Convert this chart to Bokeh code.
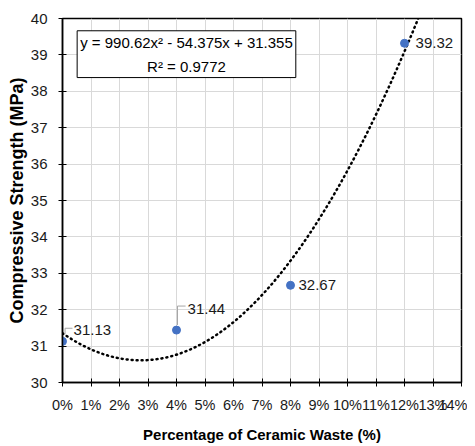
import numpy as np
from bokeh.plotting import figure
from bokeh.models import ColumnDataSource, LabelSet, Label, NumeralTickFormatter, FixedTicker, Range1d, Title
from bokeh.core.properties import value
from bokeh.embed import file_html
from bokeh.resources import INLINE

# data
ceramic = [0.00, 0.04, 0.08, 0.12]
strength = [31.13, 31.44, 32.67, 39.32]
labels = ["31.13", "31.44", "32.67", "39.32"]
# trendline coefficients (from chart equation)
coef_a, coef_b, coef_c = 990.62, -54.375, 31.355
x_ticks = [i / 100 for i in range(0, 15)]
y_ticks = list(range(30, 41))
x_title = "Percentage of Ceramic Waste (%)"
y_title = "Compressive Strength (MPa)"

FONT = "Liberation Sans"

p = figure(width=467, height=446, output_backend="svg", toolbar_location=None,
           x_range=Range1d(0, 0.14), y_range=Range1d(30, 40),
           min_border_left=62, min_border_right=6, min_border_top=18, min_border_bottom=64)
p.frame_width = 399
p.frame_height = 364

p.outline_line_color = "black"
p.outline_line_width = 1.5
p.background_fill_color = "white"
p.border_fill_color = "white"

for ax in (p.xaxis[0], p.yaxis[0]):
    ax.axis_line_color = "black"
    ax.axis_line_width = 1.5
    ax.major_tick_line_color = "black"
    ax.major_tick_in = 4
    ax.major_tick_out = 4
    ax.minor_tick_line_color = None
    ax.major_label_text_font = FONT
    ax.major_label_text_font_size = "15px"
    ax.major_label_text_color = "#1a1a1a"

p.xaxis.major_label_text_font_size = "14.5px"
p.xaxis.ticker = FixedTicker(ticks=x_ticks)
p.yaxis.ticker = FixedTicker(ticks=y_ticks)
p.xaxis.formatter = NumeralTickFormatter(format="0%")
p.xaxis.major_label_standoff = 10
p.yaxis.major_label_standoff = 11

p.xaxis.axis_label = x_title
p.xaxis.axis_label_text_font = FONT
p.xaxis.axis_label_text_font_size = "15px"
p.xaxis.axis_label_text_font_style = "bold"
p.xaxis.axis_label_text_color = "black"
p.xaxis.axis_label_standoff = 10

p.add_layout(Title(text=y_title, align="center", offset=-16, standoff=2,
                   text_font=FONT, text_font_size="18px", text_font_style="bold",
                   text_color="black"), "left")

p.xgrid.ticker = FixedTicker(ticks=x_ticks)
p.ygrid.ticker = FixedTicker(ticks=y_ticks)
p.xgrid.grid_line_color = "#d9d9d9"
p.ygrid.grid_line_color = "#d9d9d9"

# trendline
xs = np.linspace(0, 0.14, 300)
ys = coef_a * xs**2 + coef_b * xs + coef_c
p.line(xs, ys, line_color="black", line_width=2.5, line_dash="1 4", line_cap="round")

# leader lines for the two lower labels
p.multi_line(xs=[[ceramic[0] + 0.0009, ceramic[0] + 0.0009, ceramic[0] + 0.0035],
                 [ceramic[1] + 0.00035, ceramic[1] + 0.00035, ceramic[1] + 0.0032]],
             ys=[[strength[0] + 0.19, strength[0] + 0.36, strength[0] + 0.36],
                 [strength[1] + 0.14, strength[1] + 0.66, strength[1] + 0.66]],
             line_color="#a6a6a6", line_width=1)

src = ColumnDataSource(dict(x=ceramic, y=strength))
p.scatter("x", "y", source=src, size=8, fill_color="#4472C4", line_color="#4472C4")

lab_src = ColumnDataSource(dict(x=[ceramic[0] + 0.0039, ceramic[1] + 0.0039, ceramic[2] + 0.0028, ceramic[3] + 0.0039],
                                y=[strength[0] + 0.30, strength[1] + 0.58, strength[2], strength[3]],
                                t=labels))
p.add_layout(LabelSet(x="x", y="y", text="t", source=lab_src, text_font=value(FONT),
                      text_font_size=value("15px"), text_color="#1a1a1a",
                      text_baseline="middle", text_align="left"))

eq = Label(x=0.0435, y=39.02, text="y = 990.62x² - 54.375x + 31.355\nR² = 0.9772",
           text_font=FONT, text_font_size="15px", text_color="black",
           text_align="center", text_baseline="middle", text_line_height=1.4,
           border_line_color="black", border_line_width=1,
           background_fill_color="white", padding=3)
p.add_layout(eq)

open("out.html", "w").write(file_html(p, INLINE))
